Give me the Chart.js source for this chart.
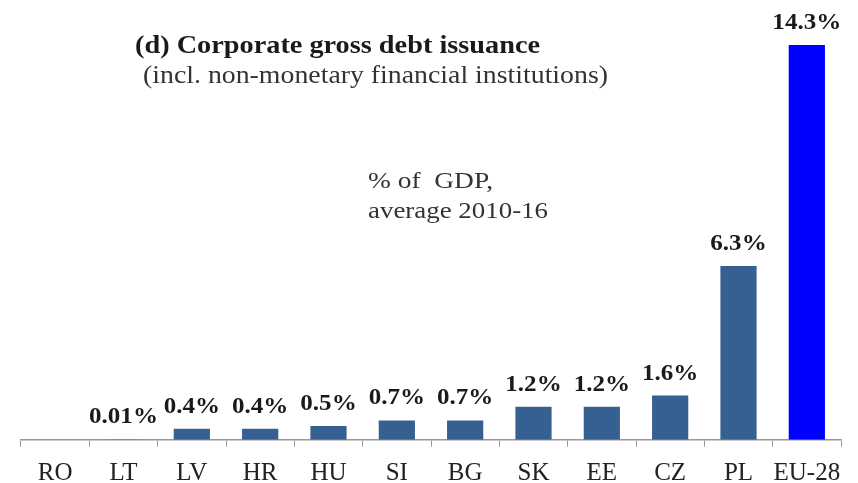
<!DOCTYPE html>
<html>
<head>
<meta charset="utf-8">
<script src="https://cdn.jsdelivr.net/npm/chart.js@4/dist/chart.umd.min.js"></script>
<style>
  html, body { margin: 0; padding: 0; background: #fff; }
  #wrap { width: 858px; height: 483px; }
</style>
</head>
<body>
<div id="wrap"><canvas id="myChart" width="858" height="483"></canvas></div>
<script>
var categories = ['RO', 'LT', 'LV', 'HR', 'HU', 'SI', 'BG', 'SK', 'EE', 'CZ', 'PL', 'EU-28'];
var values = [0, 0.01, 0.4, 0.4, 0.5, 0.7, 0.7, 1.2, 1.2, 1.6, 6.3, 14.3];
var valueLabels = ['', '0.01%', '0.4%', '0.4%', '0.5%', '0.7%', '0.7%', '1.2%', '1.2%', '1.6%', '6.3%', '14.3%'];
var barColors = ['#376092', '#376092', '#376092', '#376092', '#376092', '#376092',
                 '#376092', '#376092', '#376092', '#376092', '#376092', '#0000FF'];

var serif = '"Liberation Serif", "Times New Roman", serif';

// draw text squeezed/stretched horizontally (the source image is a bit wide)
function wideText(c, txt, x, y, sx) {
  c.save();
  c.translate(x, y);
  c.scale(sx, 1);
  c.fillText(txt, 0, 0);
  c.restore();
}

// fit a left-aligned text to a target width
function fitText(c, txt, x, y, w) {
  var m = c.measureText(txt).width;
  wideText(c, txt, x, y, w / m);
}

var textPlugin = {
  id: 'texts',
  afterDatasetsDraw: function(chart) {
    var c = chart.ctx;
    var meta = chart.getDatasetMeta(0);
    c.save();
    c.fillStyle = '#1a1a1a';
    c.font = 'bold 23px ' + serif;
    c.textAlign = 'center';
    c.textBaseline = 'alphabetic';
    meta.data.forEach(function(bar, i) {
      if (valueLabels[i]) wideText(c, valueLabels[i], bar.x, bar.y - 16, 1.09);
    });
    c.textAlign = 'left';
    c.font = 'bold 25px ' + serif;
    fitText(c, '(d) Corporate gross debt issuance', 135, 53, 405);
    c.font = '25px ' + serif;
    c.fillStyle = '#333';
    fitText(c, '(incl. non-monetary financial institutions)', 143, 83, 465);
    c.font = '24px ' + serif;
    fitText(c, '% of  GDP,', 368, 188, 125);
    fitText(c, 'average 2010-16', 368, 218, 180);
    c.restore();
  }
};

var ctx = document.getElementById('myChart').getContext('2d');
var chart = new Chart(ctx, {
  type: 'bar',
  data: {
    labels: categories,
    datasets: [{
      data: values,
      backgroundColor: barColors,
      barPercentage: 0.53,
      categoryPercentage: 1.0
    }]
  },
  options: {
    responsive: false,
    animation: false,
    layout: { padding: { left: 21, right: 17, top: 12, bottom: -18 } },
    plugins: {
      legend: { display: false },
      tooltip: { enabled: false }
    },
    scales: {
      x: {
        offset: true,
        grid: {
          offset: true,
          drawOnChartArea: false,
          drawTicks: true,
          tickLength: 7,
          color: '#999'
        },
        border: { color: '#999', width: 1.5 },
        ticks: {
          color: '#222',
          font: { family: serif, size: 25, lineHeight: 1.05 },
          padding: 14,
          maxRotation: 0,
          autoSkip: false
        }
      },
      y: {
        display: false,
        min: 0,
        max: 15.5
      }
    }
  },
  plugins: [textPlugin]
});
</script>
</body>
</html>
